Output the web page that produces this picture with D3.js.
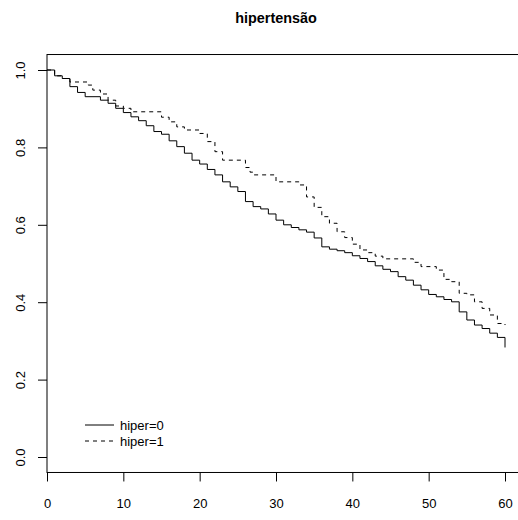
<!DOCTYPE html>
<html>
<head>
<meta charset="utf-8">
<script src="https://cdn.jsdelivr.net/npm/d3@7"></script>
<style>
  html, body { margin: 0; padding: 0; background: #fff; }
  svg { display: block; font-family: "Liberation Sans", Arial, Helvetica, sans-serif; }
</style>
</head>
<body>
<svg id="chart" width="518" height="520"></svg>
<script>
// ---- data ----
const chartTitle = "hipertensão";
const seriesNames = ["hiper=0", "hiper=1"];
const xTickValues = [0, 10, 20, 30, 40, 50, 60];
const yTickValues = [0.0, 0.2, 0.4, 0.6, 0.8, 1.0];

const hiper0Time = [0, 1, 2, 3, 4, 5, 7, 8, 9, 10, 11, 12, 13, 14, 15, 16, 17, 18, 19, 20,
  21, 22, 23, 24, 25, 26, 27, 28, 29, 30, 31, 32, 33, 34, 35, 36, 37, 38, 39, 40,
  41, 42, 43, 44, 45, 46, 47, 48, 49, 50, 51, 52, 53, 54, 55, 56, 57, 58, 59, 60];
const hiper0Surv = [1.0, 0.985, 0.978, 0.957, 0.942, 0.931, 0.922, 0.914, 0.901, 0.890, 0.879, 0.869, 0.856, 0.841, 0.834, 0.817, 0.802, 0.785, 0.767, 0.757,
  0.743, 0.729, 0.711, 0.698, 0.686, 0.660, 0.647, 0.641, 0.628, 0.612, 0.600, 0.593, 0.587, 0.581, 0.566, 0.543, 0.537, 0.533, 0.528, 0.520,
  0.513, 0.505, 0.494, 0.485, 0.479, 0.466, 0.457, 0.444, 0.432, 0.420, 0.414, 0.407, 0.401, 0.375, 0.354, 0.341, 0.332, 0.320, 0.309, 0.283];

const hiper1Time = [0, 1, 2, 3, 5.4, 6, 7, 8, 9, 10, 11, 15, 16, 17, 18, 20, 21, 22, 23, 26,
  26.6, 27, 30, 33, 34, 35, 36, 37, 38, 39, 40, 41, 42, 43, 44, 48, 49, 51, 52, 53,
  54, 55, 56, 57, 58, 59, 60];
const hiper1Surv = [1.0, 0.985, 0.978, 0.969, 0.961, 0.948, 0.938, 0.922, 0.907, 0.901, 0.892, 0.878, 0.866, 0.853, 0.845, 0.836, 0.815, 0.789, 0.767, 0.748,
  0.736, 0.729, 0.711, 0.703, 0.672, 0.645, 0.621, 0.604, 0.582, 0.567, 0.550, 0.535, 0.528, 0.519, 0.512, 0.503, 0.492, 0.483, 0.459, 0.453,
  0.423, 0.419, 0.401, 0.384, 0.367, 0.345, 0.341];

// ---- drawing ----
const svg = d3.select("#chart");
const x = d3.scaleLinear().domain([0, 60]).range([47, 505]);
const y = d3.scaleLinear().domain([0, 1]).range([457, 70]);

// plot box (right edge falls outside the window)
const boxTop = y(1.04), boxBottom = y(-0.04);
svg.append("rect")
  .attr("x", x(0)).attr("y", boxTop)
  .attr("width", 600).attr("height", boxBottom - boxTop)
  .attr("fill", "none").attr("stroke", "#000").attr("stroke-width", 1);

// title
svg.append("text")
  .attr("x", 276).attr("y", 23)
  .attr("text-anchor", "middle")
  .attr("font-size", "14.4px").attr("font-weight", "bold")
  .text(chartTitle);

// x axis
const xAxis = svg.append("g")
  .attr("transform", `translate(0,${boxBottom})`)
  .call(d3.axisBottom(x).tickValues(xTickValues).tickSize(9).tickPadding(17).tickFormat(d3.format("d")));
xAxis.select(".domain").remove();
xAxis.selectAll("text").attr("font-size", "13px").attr("fill", "#000").attr("font-family", null);
xAxis.selectAll("line").attr("stroke", "#000");

// y axis
const yAxis = svg.append("g")
  .attr("transform", `translate(${x(0)},0)`)
  .call(d3.axisLeft(y).tickValues(yTickValues).tickSize(9).tickFormat(d3.format(".1f")));
yAxis.select(".domain").remove();
yAxis.selectAll("line").attr("stroke", "#000");
yAxis.selectAll("text")
  .attr("font-size", "13px").attr("fill", "#000").attr("font-family", null)
  .attr("x", null).attr("dy", null)
  .attr("text-anchor", "middle")
  .attr("transform", "translate(-22,0) rotate(-90)");

// survival curves
const line = d3.line().x(d => x(d[0])).y(d => y(d[1])).curve(d3.curveStepAfter);
const s0 = hiper0Time.map((t, i) => [t, hiper0Surv[i]]);
const s1 = hiper1Time.map((t, i) => [t, hiper1Surv[i]]);

svg.append("path").datum(s1)
  .attr("d", line).attr("fill", "none").attr("stroke", "#000")
  .attr("stroke-width", 1).attr("stroke-dasharray", "4,4");
svg.append("path").datum(s0)
  .attr("d", line).attr("fill", "none").attr("stroke", "#000")
  .attr("stroke-width", 1);

// legend
const legendY = [425, 441];
const dashes = [null, "4,4"];
seriesNames.forEach((name, i) => {
  svg.append("line")
    .attr("x1", 85).attr("x2", 114)
    .attr("y1", legendY[i]).attr("y2", legendY[i])
    .attr("stroke", "#000").attr("stroke-width", 1)
    .attr("stroke-dasharray", dashes[i]);
  svg.append("text")
    .attr("x", 120).attr("y", legendY[i] + 4.5)
    .attr("font-size", "13px")
    .text(name);
});
</script>
</body>
</html>
